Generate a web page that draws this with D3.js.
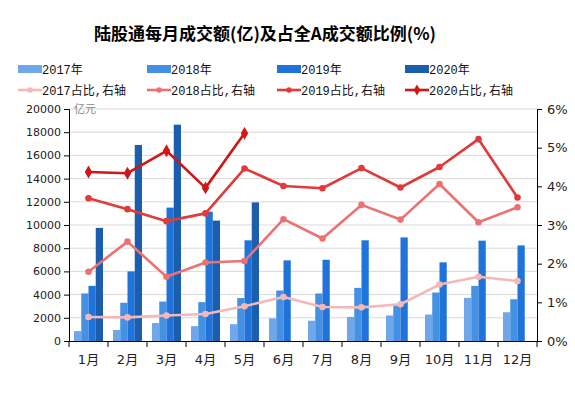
<!DOCTYPE html>
<meta charset="utf-8">
<body style="margin:0;background:#fff">
<div id="chart"></div>
</body>
<script src="https://d3js.org/d3.v7.min.js"></script>
<style>
  body { font-family: "DejaVu Sans", sans-serif; }
  .grid line { stroke: #d9d9d9; }
  .axis text { font-family: "DejaVu Sans", sans-serif; font-size: 11px; fill: #222; }
  .axis path, .axis line { stroke: #000; }
  .legend text { font-family: "Liberation Mono", "Noto Sans CJK SC", monospace; font-size: 12px; fill: #111; }
</style>
<script>
var months = ["1月","2月","3月","4月","5月","6月","7月","8月","9月","10月","11月","12月"];
var years = ["2017","2018","2019","2020"];

// 成交额(亿元)
var v2017 = [850, 950, 1550, 1280, 1450, 1950, 1750, 2080, 2200, 2280, 3720, 2480];
var v2018 = [4100, 3300, 3400, 3350, 3700, 4350, 4100, 4580, 3100, 4180, 4750, 3600];
var v2019 = [4750, 6000, 11500, 11150, 8680, 6950, 7000, 8680, 8930, 6780, 8650, 8240];
var v2020 = [9750, 16900, 18650, 10380, 11950];

// 占全A成交额比例(%)
var p2017 = [0.62, 0.61, 0.66, 0.70, 0.90, 1.14, 0.88, 0.87, 0.95, 1.46, 1.66, 1.55];
var p2018 = [1.79, 2.57, 1.66, 2.03, 2.07, 3.15, 2.65, 3.52, 3.14, 4.06, 3.07, 3.46];
var p2019 = [3.69, 3.41, 3.10, 3.30, 4.46, 4.01, 3.95, 4.47, 3.97, 4.50, 5.22, 3.71];
var p2020 = [4.37, 4.34, 4.92, 3.96, 5.37];

var leftTicks = [0,2000,4000,6000,8000,10000,12000,14000,16000,18000,20000];
var rightTicks = [0,1,2,3,4,5,6];

var barColors = ["#6fa7ea", "#4490e2", "#1f73d9", "#1b5ead"];
var lineColors = ["#f5b8b8", "#ec7272", "#e03a3a", "#d01616"];

var W = 575, H = 393;
var svg = d3.select("#chart").append("svg")
    .attr("width", W).attr("height", H);

var mLeft = 69, mRight = 537, mTop = 109, mBottom = 341;

var x = d3.scaleBand().domain(months).range([mLeft, mRight]).padding(0);
var x1 = d3.scaleBand().domain(years).range([0, x.bandwidth()]).paddingInner(0).paddingOuter(0.69);
var y = d3.scaleLinear().domain([0, 20000]).range([mBottom, mTop]);
var y2 = d3.scaleLinear().domain([0, 6]).range([mBottom, mTop]);

// title
svg.append("text")
    .attr("x", 265).attr("y", 40)
    .attr("text-anchor", "middle")
    .style("font-family", "'Noto Sans CJK SC', sans-serif")
    .style("font-weight", "bold")
    .style("font-size", "17px")
    .text("陆股通每月成交额(亿)及占全A成交额比例(%)");

// grid
svg.append("g").attr("class", "grid")
    .selectAll("line")
    .data(leftTicks.slice(1))
    .enter().append("line")
        .attr("x1", mLeft).attr("x2", mRight)
        .attr("y1", d => y(d)).attr("y2", d => y(d));

// bars
var barSeries = [v2017, v2018, v2019, v2020];
barSeries.forEach(function(vals, i) {
    svg.append("g")
        .selectAll("rect")
        .data(vals)
        .enter().append("rect")
            .attr("x", (d, j) => x(months[j]) + x1(years[i]))
            .attr("y", d => y(d))
            .attr("width", x1.bandwidth())
            .attr("height", d => y(0) - y(d))
            .attr("fill", barColors[i]);
});

// lines
var lineSeries = [p2017, p2018, p2019, p2020];
var line = d3.line()
    .x((d, j) => x(months[j]) + x.bandwidth() / 2)
    .y(d => y2(d));

lineSeries.forEach(function(vals, i) {
    var g = svg.append("g");
    g.append("path")
        .datum(vals)
        .attr("d", line)
        .attr("fill", "none")
        .attr("stroke", lineColors[i])
        .attr("stroke-width", 2.6)
        .attr("stroke-linejoin", "round");
    g.selectAll("path.m")
        .data(vals)
        .enter().append("path")
            .attr("class", "m")
            .attr("transform", (d, j) => "translate(" + (x(months[j]) + x.bandwidth() / 2) + "," + y2(d) + ")")
            .attr("d", d3.symbol().type(i == 3 ? d3.symbolDiamond : d3.symbolCircle).size(i == 3 ? 48 : 34))
            .attr("fill", lineColors[i]);
});

// axes
svg.append("g").attr("class", "axis")
    .attr("transform", "translate(" + mLeft + ",0)")
    .call(d3.axisLeft(y).tickValues(leftTicks).tickFormat(d3.format("d")).tickSizeOuter(0).tickSize(5));

svg.append("g").attr("class", "axis")
    .attr("transform", "translate(" + mRight + ",0)")
    .call(d3.axisRight(y2).tickValues(rightTicks).tickFormat(d => d + "%").tickSizeOuter(0).tickSize(5))
    .selectAll("text").style("font-size", "13px").attr("x", 10);

var xAxis = svg.append("g").attr("class", "axis")
    .attr("transform", "translate(0," + mBottom + ")")
    .call(d3.axisBottom(x).tickSize(0).tickSizeOuter(0));
xAxis.selectAll("text")
    .attr("y", 14)
    .attr("dy", "0.71em")
    .style("font-family", "'DejaVu Sans', 'Noto Sans CJK SC', sans-serif")
    .style("font-size", "13px");
xAxis.selectAll(".sep")
    .data(months.concat(["end"]))
    .enter().append("line")
        .attr("class", "sep")
        .attr("x1", (d, j) => mLeft + j * x.step())
        .attr("x2", (d, j) => mLeft + j * x.step())
        .attr("y1", 0).attr("y2", 6)
        .attr("stroke", "#000");

// unit label
svg.append("text")
    .attr("x", mLeft + 5).attr("y", mTop + 4)
    .style("font-family", "'Noto Sans CJK SC', sans-serif")
    .style("font-size", "11px")
    .attr("fill", "#888")
    .text("亿元");

// legend
var legendX = [18, 147, 277, 405];
var legend = svg.append("g").attr("class", "legend");
years.forEach(function(yr, i) {
    legend.append("rect")
        .attr("x", legendX[i]).attr("y", 65)
        .attr("width", 24).attr("height", 8)
        .attr("fill", barColors[i]);
    legend.append("text")
        .attr("x", legendX[i] + 24).attr("y", 73.5)
        .text(yr + "年");
    legend.append("line")
        .attr("x1", legendX[i]).attr("x2", legendX[i] + 24)
        .attr("y1", 90).attr("y2", 90)
        .attr("stroke", lineColors[i]).attr("stroke-width", 2.6);
    legend.append("path")
        .attr("transform", "translate(" + (legendX[i] + 12) + ",90)")
        .attr("d", d3.symbol().type(i == 3 ? d3.symbolDiamond : d3.symbolCircle).size(i == 3 ? 36 : 24))
        .attr("fill", lineColors[i]);
    legend.append("text")
        .attr("x", legendX[i] + 24).attr("y", 94.5)
        .text(yr + "占比,右轴");
});
</script>
